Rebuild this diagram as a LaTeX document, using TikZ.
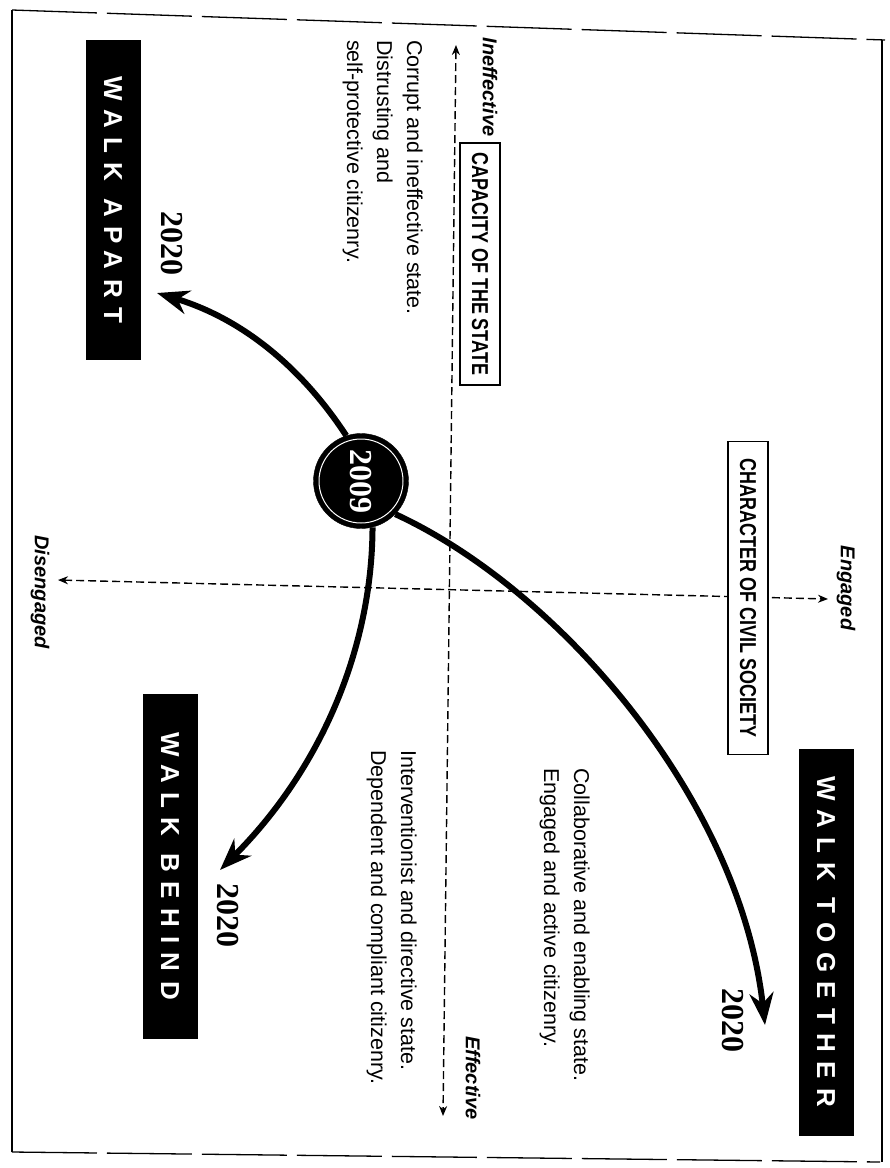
\documentclass[tikz,border=0pt]{standalone}
\usepackage{fontspec}
\setmainfont{Liberation Sans}
\newfontfamily\labfont{Liberation Sans}[FakeStretch=0.78]
\newfontfamily\walkfont{Liberation Sans}[LetterSpace=36]
\newfontfamily\yrfont{Liberation Serif}
\usetikzlibrary{arrows.meta}
\begin{document}
\begin{tikzpicture}[x=1pt,y=-1pt,
  desc/.style={rotate=-90, anchor=north west, align=left, inner sep=0pt, font=\fontsize{21.5}{30}\selectfont},
  pole/.style={rotate=-90, inner sep=0pt, font=\fontsize{20}{24}\selectfont\bfseries\itshape},
  axbox/.style={rotate=-90, draw, fill=white, line width=1.3pt, inner sep=0pt, minimum height=40pt, font=\labfont\bfseries\fontsize{23}{26}\selectfont},
  walkbox/.style={rotate=-90, fill=black, text=white, inner sep=0pt, minimum height=55pt, font=\walkfont\bfseries\fontsize{26}{30}\selectfont},
  yr/.style={rotate=-90, inner sep=0pt, font=\yrfont\bfseries\fontsize{32}{36}\selectfont},
  big/.style={line width=6pt, -{Stealth[length=32pt,width=24pt]}},
  axis/.style={line width=1.4pt, dash pattern=on 8pt off 4pt, {Stealth[length=10pt,width=8pt]}-{Stealth[length=10pt,width=8pt]}},
  frame/.style={line width=1.3pt}
]
\useasboundingbox (0,0) rectangle (890,1168);
% frame
\draw[frame, dash pattern=on 85pt off 10pt] (12,10) -- (885,40);
\draw[frame, dash pattern=on 85pt off 10pt] (12,1152) -- (880,1162);
\draw[frame] (12,10) -- (12,1152);
\draw[frame] (882,40) -- (882,1162);
% axes
\coordinate (vt) at (456,45);
\coordinate (vb) at (443,1116);
\coordinate (hl) at (58,580);
\coordinate (hr) at (828,599);
\draw[axis] (vt) -- (vb);
\draw[axis] (hl) -- (hr);
% pole labels
\node[pole] (inef) at (490,87) {Ineffective};
\node[pole] (eff) at (473,1078) {Effective};
\node[pole] (eng) at (846,588) {Engaged};
\node[pole] (dis) at (40,592) {Disengaged};
% axis boxes
\node[axbox, minimum width=242pt] (cap) at (480,264) {CAPACITY OF THE STATE};
\node[axbox, minimum width=313pt] (civ) at (748,598) {CHARACTER OF CIVIL SOCIETY};
% descriptions
\node[desc] (d1) at (423,40) {Corrupt and ineffective state.\\Distrusting and\\self-protective citizenry.};
\node[desc] (d2) at (417,750) {Interventionist and directive state.\\Dependent and compliant citizenry.};
\node[desc] (d3) at (590,768) {Collaborative and enabling state.\\Engaged and active citizenry.};
% centre
\node[circle, fill=black, draw=black, minimum size=95pt, inner sep=0pt] (c) at (361,481) {};
% arrows
\coordinate (ta) at (157,293);
\coordinate (tb) at (220,870);
\coordinate (tt) at (765,1025);
\draw[big] (c.108) .. controls (300,365) and (240,318) .. (ta);
\draw[big] (c.-76) .. controls (372,650) and (320,770) .. (tb);
\draw[big] (c.-44) .. controls (560,590) and (740,800) .. (tt);
\draw[white, line width=1pt] (c.center) circle[radius=42pt];
\node[yr, text=white] (ct) at (c.center) {2009};
% scenario boxes
\node[walkbox, minimum width=320pt] (wa) at (113,200) {WALK APART};
\node[walkbox, minimum width=345pt] (wb) at (170,866) {WALK BEHIND};
\node[walkbox, minimum width=387pt] (wt) at (826,942) {WALK TOGETHER};
% years
\node[yr] (ya) at (172,243) {2020};
\node[yr] (yb) at (228,915) {2020};
\node[yr] (yt) at (733,1020) {2020};
\end{tikzpicture}
\end{document}
